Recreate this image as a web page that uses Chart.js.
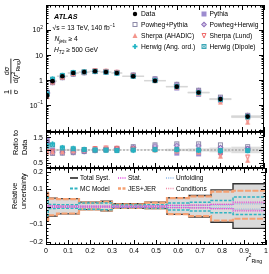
<!DOCTYPE html>
<html>
<head>
<meta charset="utf-8">
<script src="https://cdn.jsdelivr.net/npm/chart.js@4.4.1/dist/chart.umd.min.js"></script>
<style>
  body { margin: 0; background: #fff; }
  #wrap { position: relative; width: 269px; height: 274px; }
  #wrap canvas { position: absolute; left: 0; top: 0; }
</style>
</head>
<body>
<div id="wrap">
  <canvas id="unc" width="269" height="274"></canvas>
  <canvas id="ratio" width="269" height="274"></canvas>
  <canvas id="main" width="269" height="274"></canvas>
</div>
<script>
// ---- data ----
const binEdges = [0, 0.01, 0.05, 0.1, 0.15, 0.2, 0.25, 0.3, 0.35, 0.45, 0.55, 0.65, 0.75, 0.85, 1.0];
const dataValues = [0.24, 0.91, 1.43, 1.93, 2.1, 2.25, 2.1, 1.93, 1.43, 0.95, 0.55, 0.32, 0.175, 0.035];

// MC / data ratios
const ratioPythia       = [1.38, 1.00, 0.95, 0.95, 0.97, 1.00, 1.02, 1.03, 1.05, 1.05, 0.88, 0.85, 0.90, 1.05];
const ratioPowhegPythia = [1.30, 0.87, 0.88, 0.90, 0.94, 0.98, 1.02, 1.05, 1.13, 1.20, 1.24, 1.24, 1.20, 1.13];
const ratioPowhegHerwig = [1.28, 0.90, 0.90, 0.92, 0.95, 1.00, 1.03, 1.06, 1.10, 1.16, 1.18, 1.16, 1.10, 1.06];
const ratioSherpaAhadic = [0.92, 0.93, 0.93, 0.97, 1.00, 1.05, 1.08, 1.06, 1.02, 1.00, 0.96, 0.92, 0.76, 0.60];
const ratioSherpaLund   = [0.95, 0.95, 0.95, 0.98, 1.02, 1.06, 1.08, 1.07, 1.04, 1.02, 0.98, 0.95, 0.82, 0.73];
const ratioHerwigAng    = [1.20, 1.24, 1.10, 1.07, 1.03, 1.00, 1.00, 0.98, 0.98, 1.00, 1.00, 0.98, 0.96, 0.97];
const ratioHerwigDipole = [1.15, 1.20, 1.08, 1.05, 1.02, 1.00, 0.99, 0.98, 1.00, 1.02, 1.02, 1.00, 0.98, 0.98];

// relative uncertainties (up / down)
const totalSystUp = [0.080, 0.048, 0.045, 0.045, 0.025, 0.025, 0.030, 0.016, 0.016, 0.025, 0.050, 0.063, 0.095, 0.130];
const totalSystDn = [0.085, 0.055, 0.042, 0.042, 0.018, 0.018, 0.024, 0.010, 0.010, 0.012, 0.045, 0.060, 0.090, 0.125];
const jesJerUp    = [0.075, 0.045, 0.042, 0.042, 0.022, 0.022, 0.027, 0.013, 0.013, 0.022, 0.048, 0.058, 0.085, 0.090];
const jesJerDn    = [0.080, 0.050, 0.040, 0.040, 0.016, 0.016, 0.022, 0.008, 0.008, 0.010, 0.043, 0.055, 0.080, 0.070];
const mcModelUp   = [0.050, 0.012, 0.010, 0.010, 0.020, 0.020, 0.020, 0.008, 0.008, 0.010, 0.020, 0.025, 0.035, 0.055];
const mcModelDn   = [0.050, 0.012, 0.010, 0.010, 0.015, 0.015, 0.018, 0.006, 0.006, 0.008, 0.020, 0.025, 0.035, 0.045];
const statUnc     = [0.008, 0.004, 0.003, 0.003, 0.003, 0.003, 0.003, 0.003, 0.003, 0.004, 0.006, 0.008, 0.012, 0.025];
const unfoldUnc   = [0.006, 0.003, 0.002, 0.002, 0.002, 0.002, 0.002, 0.002, 0.002, 0.003, 0.005, 0.006, 0.008, 0.015];
const condUnc     = [0.010, 0.005, 0.004, 0.004, 0.003, 0.003, 0.003, 0.003, 0.003, 0.004, 0.006, 0.008, 0.012, 0.020];

const xTickLabels = ['0', '0.1', '0.2', '0.3', '0.4', '0.5', '0.6', '0.7', '0.8', '0.9', '1'];

// ---- helpers ----
const FONT = "'Liberation Sans', Arial, Helvetica, sans-serif";
const binCenters = dataValues.map((_, i) => (binEdges[i] + binEdges[i + 1]) / 2);

function drawMarker(ctx, kind, color, x, y, s) {
  const h = s / 2;
  ctx.save();
  ctx.fillStyle = color;
  ctx.strokeStyle = color;
  ctx.lineWidth = 1;
  ctx.beginPath();
  if (kind === 'circle') {
    ctx.arc(x, y, h, 0, Math.PI * 2); ctx.fill();
  } else if (kind === 'sqFill') {
    ctx.fillRect(x - h, y - h, s, s);
  } else if (kind === 'sqOpen') {
    ctx.strokeRect(x - h + 0.5, y - h + 0.5, s - 1, s - 1);
  } else if (kind === 'sqX') {
    ctx.strokeRect(x - h + 0.5, y - h + 0.5, s - 1, s - 1);
    ctx.moveTo(x - h + 1, y - h + 1); ctx.lineTo(x + h - 1, y + h - 1);
    ctx.moveTo(x + h - 1, y - h + 1); ctx.lineTo(x - h + 1, y + h - 1);
    ctx.stroke();
  } else if (kind === 'diamondX') {
    ctx.moveTo(x, y - h - 0.5); ctx.lineTo(x + h + 0.5, y); ctx.lineTo(x, y + h + 0.5); ctx.lineTo(x - h - 0.5, y); ctx.closePath();
    ctx.fill();
    ctx.beginPath();
    ctx.strokeStyle = '#d9cdeb';
    ctx.moveTo(x, y - h + 1); ctx.lineTo(x, y + h - 1);
    ctx.moveTo(x - h + 1, y); ctx.lineTo(x + h - 1, y);
    ctx.stroke();
  } else if (kind === 'triUp') {
    ctx.moveTo(x, y - h); ctx.lineTo(x + h, y + h); ctx.lineTo(x - h, y + h); ctx.closePath(); ctx.fill();
  } else if (kind === 'triDownOpen') {
    ctx.moveTo(x - h + 0.5, y - h + 0.5); ctx.lineTo(x + h - 0.5, y - h + 0.5); ctx.lineTo(x, y + h); ctx.closePath(); ctx.stroke();
  } else if (kind === 'plus') {
    const t = s / 3;
    ctx.fillRect(x - t / 2, y - h, t, s);
    ctx.fillRect(x - h, y - t / 2, s, t);
  }
  ctx.restore();
}

function makeMarker(kind, color, s) {
  const c = document.createElement('canvas');
  c.width = s + 2; c.height = s + 2;
  drawMarker(c.getContext('2d'), kind, color, c.width / 2, c.height / 2, s);
  return c;
}

function drawRich(ctx, parts, x, y, size) {
  let cx = x;
  parts.forEach(p => {
    const s = (p.sub || p.sup) ? size * 0.7 : size;
    const dy = p.sub ? size * 0.3 : (p.sup ? -size * 0.42 : 0);
    ctx.font = (p.i ? 'italic ' : '') + (p.b ? 'bold ' : '') + s + 'px ' + FONT;
    ctx.fillText(p.t, cx, y + dy);
    cx += ctx.measureText(p.t).width;
  });
  return cx - x;
}
function richWidth(ctx, parts, size) {
  let w = 0;
  parts.forEach(p => {
    const s = (p.sub || p.sup) ? size * 0.7 : size;
    ctx.font = (p.i ? 'italic ' : '') + (p.b ? 'bold ' : '') + s + 'px ' + FONT;
    w += ctx.measureText(p.t).width;
  });
  return w;
}

function stepPoints(vals, sign) {
  const pts = vals.map((v, i) => ({ x: binEdges[i], y: sign * v }));
  pts.push({ x: binEdges[binEdges.length - 1], y: sign * vals[vals.length - 1] });
  return pts;
}

// model styles
const models = [
  { label: 'Herwig (Ang. ord.)', ratio: ratioHerwigAng,    kind: 'plus',        color: '#1fb3c4' },
  { label: 'Herwig (Dipole)',    ratio: ratioHerwigDipole, kind: 'sqX',         color: '#3aa6b6' },
  { label: 'Sherpa (AHADIC)',    ratio: ratioSherpaAhadic, kind: 'triUp',       color: '#f3958c' },
  { label: 'Sherpa (Lund)',      ratio: ratioSherpaLund,   kind: 'triDownOpen', color: '#ef6a6a' },
  { label: 'Powheg+Herwig',      ratio: ratioPowhegHerwig, kind: 'diamondX',    color: '#8a6cb8' },
  { label: 'Powheg+Pythia',      ratio: ratioPowhegPythia, kind: 'sqOpen',      color: '#8d8aa8' },
  { label: 'Pythia',             ratio: ratioPythia,       kind: 'sqFill',      color: '#9d8ccf' }
];

// ---- axis frame / ticks plugin ----
function atlasAxes(opts) {
  return {
    id: 'atlasAxes',
    afterDraw(chart) {
      const { ctx, chartArea: a } = chart;
      const x = chart.scales.x, y = chart.scales.y;
      ctx.save();
      ctx.strokeStyle = '#000';
      ctx.lineWidth = 1;
      ctx.beginPath();
      for (let i = 0; i <= 50; i++) {
        const px = Math.round(x.getPixelForValue(i * 0.02)) + 0.5;
        const len = i % 5 === 0 ? 5 : 2.5;
        ctx.moveTo(px, a.bottom); ctx.lineTo(px, a.bottom - len);
        ctx.moveTo(px, a.top); ctx.lineTo(px, a.top + len);
      }
      opts.yTicks.forEach(t => {
        const py = Math.round(y.getPixelForValue(t.v)) + 0.5;
        if (py < a.top || py > a.bottom) return;
        const len = t.major ? 5 : 2.5;
        ctx.moveTo(a.left, py); ctx.lineTo(a.left + len, py);
        ctx.moveTo(a.right, py); ctx.lineTo(a.right - len, py);
      });
      ctx.stroke();
      ctx.strokeRect(a.left + 0.5, a.top + 0.5, a.right - a.left - 1, a.bottom - a.top - 1);

      ctx.fillStyle = '#000';
      ctx.textBaseline = 'middle';
      opts.yLabels.forEach(l => {
        const py = y.getPixelForValue(l.v);
        const w = richWidth(ctx, l.parts, 7);
        drawRich(ctx, l.parts, a.left - 3 - w, py + 0.5, 7);
      });
      if (opts.xLabels) {
        ctx.textAlign = 'center';
        ctx.textBaseline = 'alphabetic';
        ctx.font = '7px ' + FONT;
        xTickLabels.forEach((t, i) => ctx.fillText(t, x.getPixelForValue(i / 10), a.bottom + 8));
        ctx.textAlign = 'left';
      }
      if (opts.extra) opts.extra(chart);
      ctx.restore();
    }
  };
}

// band plugin (data uncertainty boxes)
function bandPlugin(getRange, withLine) {
  return {
    id: 'bands',
    beforeDatasetsDraw(chart) {
      const { ctx, chartArea: a } = chart;
      const x = chart.scales.x, y = chart.scales.y;
      ctx.save();
      ctx.beginPath(); ctx.rect(a.left, a.top, a.right - a.left, a.bottom - a.top); ctx.clip();
      dataValues.forEach((d, i) => {
        const r = getRange(i);
        const x0 = x.getPixelForValue(binEdges[i]), x1 = x.getPixelForValue(binEdges[i + 1]);
        const y0 = y.getPixelForValue(r.hi), y1 = y.getPixelForValue(r.lo);
        ctx.fillStyle = '#dedede';
        ctx.fillRect(x0, y0, x1 - x0, Math.max(y1 - y0, 0.5));
        if (withLine) {
          const yc = y.getPixelForValue(r.mid);
          ctx.fillStyle = '#d6d6d6';
          ctx.fillRect(x0, yc - 0.75, x1 - x0, 1.5);
        }
      });
      ctx.restore();
    }
  };
}

function baseOptions(top, bottom, yScale) {
  return {
    responsive: false,
    animation: false,
    devicePixelRatio: 1,
    events: [],
    layout: { padding: { left: 46, right: 3, top: top, bottom: 274 - bottom } },
    scales: {
      x: { type: 'linear', min: 0, max: 1, display: false },
      y: Object.assign({ display: false }, yScale)
    },
    plugins: { legend: { display: false }, tooltip: { enabled: false }, filler: { drawTime: 'beforeDatasetsDraw' } }
  };
}

// ---- main panel ----
const logTicks = [];
for (let e = -3; e <= 3; e++) {
  for (let k = 1; k <= 9; k++) logTicks.push({ v: k * Math.pow(10, e), major: k === 1 });
}
const mainDatasets = [{
  label: 'Data',
  data: dataValues.map((v, i) => ({ x: binCenters[i], y: v })),
  pointStyle: 'circle', pointRadius: 2.3, backgroundColor: '#000', borderColor: '#000', borderWidth: 0
}].concat(models.map(m => ({
  label: m.label,
  data: m.ratio.map((r, i) => ({ x: binCenters[i], y: r * dataValues[i] })),
  pointStyle: makeMarker(m.kind, m.color, 5), pointRadius: 3
})));

function mainText(chart) {
  const ctx = chart.ctx;
  ctx.fillStyle = '#000';
  ctx.textBaseline = 'alphabetic';
  ctx.textAlign = 'left';
  drawRich(ctx, [{ t: 'ATLAS', b: true, i: true }], 54, 18.5, 7.2);
  drawRich(ctx, [{ t: '\u221As = 13 TeV, 140 fb' }, { t: '\u22121', sup: true }], 52.5, 30, 6.7);
  drawRich(ctx, [{ t: 'N', i: true }, { t: 'jets', sub: true, i: true }, { t: ' \u2265 4' }], 54.5, 41, 6.7);
  drawRich(ctx, [{ t: 'H', i: true }, { t: 'T2', sub: true, i: true }, { t: ' \u2265 500 GeV' }], 54, 51.5, 6.7);

  // legend
  const col1 = [['Data', 'circle', '#000'], ['Powheg+Pythia'], ['Sherpa (AHADIC)'], ['Herwig (Ang. ord.)']];
  const col2 = [['Pythia'], ['Powheg+Herwig'], ['Sherpa (Lund)'], ['Herwig (Dipole)']];
  const rowsY = [14, 24.5, 35.5, 46.5];
  [[col1, 135, 141], [col2, 204, 209.5]].forEach(([col, mx, tx]) => {
    col.forEach((e, r) => {
      let kind = e[1], color = e[2];
      if (!kind) { const m = models.find(mm => mm.label === e[0]); kind = m.kind; color = m.color; }
      drawMarker(ctx, kind, color, mx, rowsY[r], kind === 'circle' ? 4.4 : 5);
      ctx.fillStyle = '#000';
      ctx.font = '6.7px ' + FONT;
      ctx.textBaseline = 'middle';
      ctx.fillText(e[0], tx, rowsY[r] + 0.5);
    });
  });

  // y title: 1/sigma dsigma/d(r^2_Ring)
  ctx.save();
  ctx.translate(11, 0);
  ctx.rotate(-Math.PI / 2);
  ctx.textBaseline = 'alphabetic';
  const frac = (num, den, cy) => {
    const wn = richWidth(ctx, num, 7.3), wd = richWidth(ctx, den, 7.3);
    const w = Math.max(wn, wd);
    drawRich(ctx, num, -cy - wn / 2, -1.8, 7.3);
    drawRich(ctx, den, -cy - wd / 2, 6.6, 7.3);
    ctx.fillRect(-cy - w / 2, -0.5, w, 0.8);
  };
  frac([{ t: '1' }], [{ t: '\u03C3' }], 92);
  frac([{ t: 'd\u03C3' }], [{ t: 'd(' }, { t: 'r', i: true }, { t: '2', sup: true }, { t: 'Ring', sub: true }, { t: ')' }], 71);
  ctx.restore();
}

new Chart(document.getElementById('main'), {
  type: 'scatter',
  data: { datasets: mainDatasets },
  options: baseOptions(1.5, 132, { type: 'logarithmic', min: 0.0085, max: 1000 }),
  plugins: [
    bandPlugin(i => ({ lo: dataValues[i] * (1 - totalSystDn[i]), hi: dataValues[i] * (1 + totalSystUp[i]), mid: dataValues[i] }), true),
    atlasAxes({
      yTicks: logTicks,
      yLabels: [
        { v: 100, parts: [{ t: '10' }, { t: '2', sup: true }] },
        { v: 10, parts: [{ t: '10' }] },
        { v: 1, parts: [{ t: '1' }] },
        { v: 0.1, parts: [{ t: '10' }, { t: '\u22121', sup: true }] }
      ],
      extra: mainText
    })
  ]
});

// ---- ratio panel ----
const ratioTicks = [];
for (let k = 3; k <= 17; k++) ratioTicks.push({ v: k / 10, major: k % 5 === 0 });
const ratioDatasets = models.map(m => ({
  label: m.label,
  data: m.ratio.map((r, i) => ({ x: binCenters[i], y: r })),
  pointStyle: makeMarker(m.kind, m.color, 5), pointRadius: 3
}));
ratioDatasets.push({
  label: 'unity',
  data: [{ x: 0, y: 1 }, { x: 1, y: 1 }],
  showLine: true, pointRadius: 0, borderColor: '#8c8c8c', borderWidth: 1, borderDash: [2, 1.5]
});

function ratioText(chart) {
  const ctx = chart.ctx;
  ctx.save();
  ctx.fillStyle = '#000';
  ctx.rotate(-Math.PI / 2);
  ctx.textBaseline = 'alphabetic';
  ctx.textAlign = 'left';
  ctx.font = '7.3px ' + FONT;
  ctx.fillText('Ratio to', -155, 18);
  ctx.fillText('Data', -155, 26.5);
  ctx.restore();
}

new Chart(document.getElementById('ratio'), {
  type: 'scatter',
  data: { datasets: ratioDatasets },
  options: baseOptions(132, 168, { type: 'linear', min: 0.3, max: 1.7 }),
  plugins: [
    bandPlugin(i => ({ lo: 1 - totalSystDn[i], hi: 1 + totalSystUp[i], mid: 1 }), false),
    atlasAxes({
      yTicks: ratioTicks,
      yLabels: [
        { v: 1.5, parts: [{ t: '1.5' }] },
        { v: 1, parts: [{ t: '1' }] },
        { v: 0.5, parts: [{ t: '0.5' }] }
      ],
      extra: ratioText
    })
  ]
});

// ---- relative uncertainty panel ----
const uncTicks = [];
for (let k = -11; k <= 11; k++) uncTicks.push({ v: k / 50, major: k % 5 === 0 });

const uncStyles = {
  stat:  { color: '#e23fe0', width: 1.2, dash: [1, 1.2] },
  unf:   { color: '#8fb8e6', width: 1.2, dash: [1, 1.2] },
  cond:  { color: '#f08aa8', width: 1.2, dash: [1, 1.2] },
  mc:    { color: '#33b4c2', width: 1.5, dash: [3, 1.5] },
  jes:   { color: '#f5a173', width: 2.2, dash: [6, 1.5] },
  total: { color: '#333333', width: 1.4, dash: [] }
};
function stepSet(label, vals, sign, st, extra) {
  return Object.assign({
    label: label, data: stepPoints(vals, sign), showLine: true, stepped: 'before',
    pointRadius: 0, borderColor: st.color, borderWidth: st.width, borderDash: st.dash, fill: false
  }, extra || {});
}
const uncDatasets = [
  stepSet('Stat. up', statUnc, 1, uncStyles.stat),
  stepSet('Stat. dn', statUnc, -1, uncStyles.stat),
  stepSet('Unfolding up', unfoldUnc, 1, uncStyles.unf),
  stepSet('Unfolding dn', unfoldUnc, -1, uncStyles.unf),
  stepSet('Conditions up', condUnc, 1, uncStyles.cond),
  stepSet('Conditions dn', condUnc, -1, uncStyles.cond),
  stepSet('MC Model up', mcModelUp, 1, uncStyles.mc),
  stepSet('MC Model dn', mcModelDn, -1, uncStyles.mc),
  stepSet('JES+JER up', jesJerUp, 1, uncStyles.jes),
  stepSet('JES+JER dn', jesJerDn, -1, uncStyles.jes),
  stepSet('Total Syst. up', totalSystUp, 1, uncStyles.total, { fill: '+1', backgroundColor: '#dadada' }),
  stepSet('Total Syst. dn', totalSystDn, -1, uncStyles.total)
];

function uncText(chart) {
  const ctx = chart.ctx;
  ctx.save();
  const items = [
    ['Total Syst.', uncStyles.total, 70, 178],
    ['Stat.', uncStyles.stat, 118, 178],
    ['Unfolding', uncStyles.unf, 166, 178],
    ['MC Model', uncStyles.mc, 70, 188.5],
    ['JES+JER', uncStyles.jes, 118, 188.5],
    ['Conditions', uncStyles.cond, 166, 188.5]
  ];
  items.forEach(([t, st, lx, ly]) => {
    ctx.beginPath();
    ctx.strokeStyle = st.color;
    ctx.lineWidth = st.width + 0.3;
    ctx.setLineDash(st.dash.length ? st.dash.map(d => Math.min(d, 3)) : []);
    ctx.moveTo(lx, ly); ctx.lineTo(lx + 8, ly);
    ctx.stroke();
    ctx.setLineDash([]);
    ctx.fillStyle = '#000';
    ctx.font = '6.5px ' + FONT;
    ctx.textBaseline = 'middle';
    ctx.fillText(t, lx + 10, ly + 0.5);
  });

  // y title
  ctx.rotate(-Math.PI / 2);
  ctx.textBaseline = 'alphabetic';
  ctx.font = '7.3px ' + FONT;
  ctx.fillStyle = '#000';
  ctx.fillText('Relative', -209, 17);
  ctx.fillText('uncertainty', -209, 25.5);
  ctx.restore();

  // x title
  ctx.fillStyle = '#000';
  ctx.textBaseline = 'alphabetic';
  drawRich(ctx, [{ t: 'r', i: true }, { t: '2', sup: true }, { t: 'Ring', sub: true }], 246, 260.5, 7.5);
}

new Chart(document.getElementById('unc'), {
  type: 'scatter',
  data: { datasets: uncDatasets },
  options: baseOptions(168, 245, { type: 'linear', min: -0.22, max: 0.22 }),
  plugins: [
    atlasAxes({
      yTicks: uncTicks,
      yLabels: [
        { v: 0.2, parts: [{ t: '0.2' }] },
        { v: 0.1, parts: [{ t: '0.1' }] },
        { v: 0, parts: [{ t: '0' }] },
        { v: -0.1, parts: [{ t: '\u22120.1' }] },
        { v: -0.2, parts: [{ t: '\u22120.2' }] }
      ],
      xLabels: true,
      extra: uncText
    })
  ]
});
</script>
</body>
</html>
